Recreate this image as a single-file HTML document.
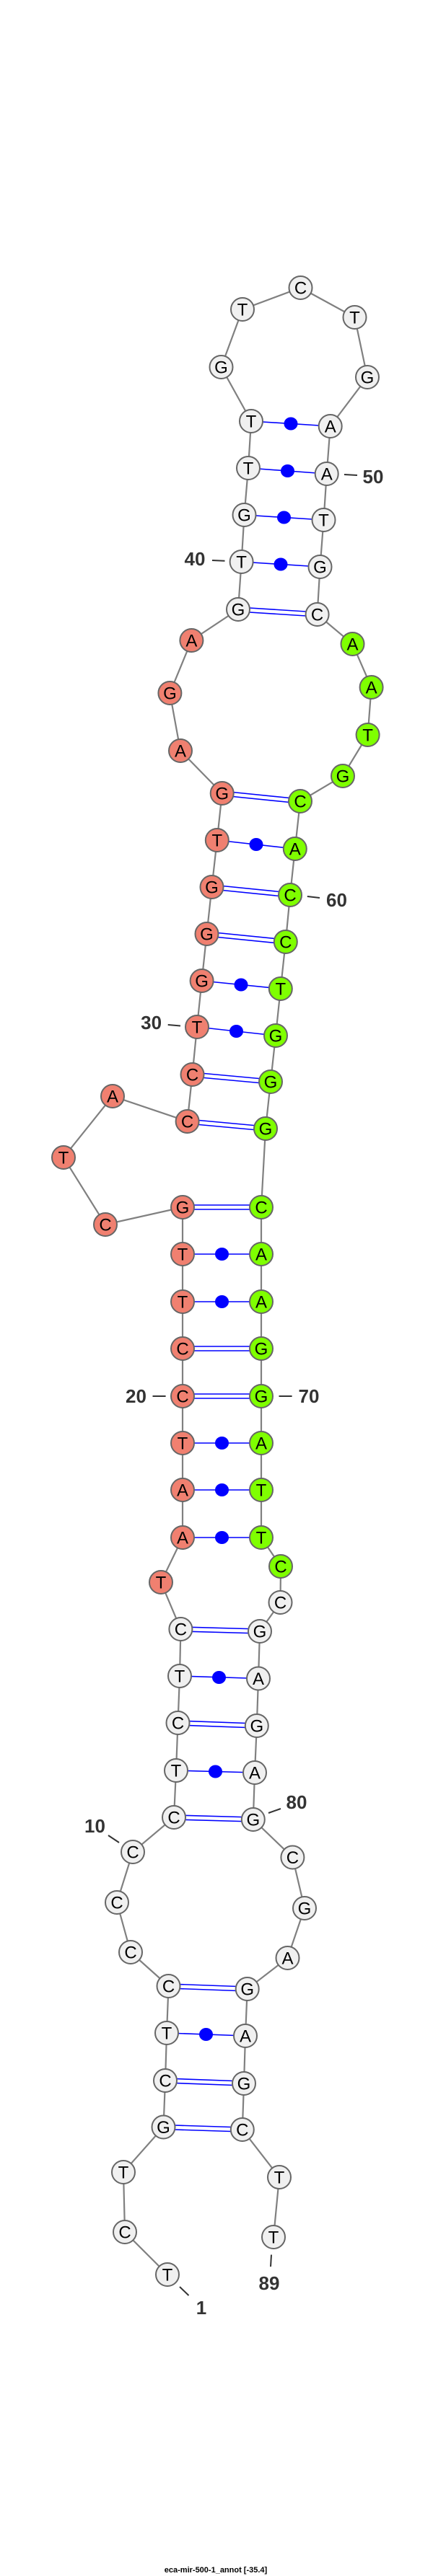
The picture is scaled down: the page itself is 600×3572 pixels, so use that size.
<!DOCTYPE html>
<html><head><meta charset="utf-8"><style>
html,body{margin:0;padding:0;background:#fff;}
svg{display:block}
.b{fill:none;stroke:#808080;stroke-width:2.2}
.p{stroke:#0000ff;stroke-width:1.6}
.d{fill:#0000ff}
circle{stroke:#666;stroke-width:2}
.w{fill:#f0f0f0}.r{fill:#f08070}.g{fill:#7fff00}
text.n{font-family:"Liberation Sans",sans-serif;font-size:24px;text-anchor:middle;fill:#000}
text.l{font-family:"Liberation Sans",sans-serif;font-size:26px;font-weight:bold;text-anchor:middle;fill:#333}
.t{stroke:#333;stroke-width:2}
</style></head><body>
<svg width="600" height="3572" viewBox="0 0 600 3572" xmlns="http://www.w3.org/2000/svg">
<polyline class="b" points="232,3154 173,3095 171,3012 226.5,2949.5 229,2885 231,2819 233.5,2754 181,2707 162,2638 184,2568 241,2520 244,2455 246.5,2389 249,2324 250.4,2259 223,2194 253,2132 253,2066 253,2001 253,1936 253,1870 253,1805 253,1739 253,1674 146,1698 88,1605 156,1520 259.6,1555 266.5,1490 273,1424 279.6,1360 286.5,1295 293.5,1230 300.8,1165 307.7,1100 250,1041 235.4,961 265.4,888 330,845 334.6,779 338.5,714 344,649 348,584 306.5,509 336,429 416.5,399 491.5,440 509,523 457.7,591 452.7,657 448.5,721 443.5,786 439.6,852 488.5,893 514.6,953 509.6,1019 475,1076 416,1111 408.8,1177 402,1241 395.8,1306 388.8,1371 382,1436 375,1500 368,1565 362,1674 362,1739 362,1805 362,1870 362,1936 362,2001 362,2066 362,2132 389,2172 388.5,2222 360,2262 358,2327.5 355.8,2393 353,2458 350.8,2523 405.4,2575.5 422,2646 398.5,2715 342.7,2758 340,2823 338,2889 335.8,2953 387,3019 379,3102"/>
<g class="p">
<!-- double pairs -->
<line x1="226.5" y1="2946.5" x2="335.8" y2="2950"/><line x1="226.5" y1="2952.5" x2="335.8" y2="2956"/>
<line x1="229" y1="2882" x2="338" y2="2886"/><line x1="229" y1="2888" x2="338" y2="2892"/>
<line x1="233.5" y1="2751" x2="342.7" y2="2755"/><line x1="233.5" y1="2757" x2="342.7" y2="2761"/>
<line x1="241" y1="2517" x2="350.8" y2="2520"/><line x1="241" y1="2523" x2="350.8" y2="2526"/>
<line x1="246.5" y1="2386" x2="355.8" y2="2390"/><line x1="246.5" y1="2392" x2="355.8" y2="2396"/>
<line x1="250.4" y1="2256" x2="360" y2="2259"/><line x1="250.4" y1="2262" x2="360" y2="2265"/>
<line x1="253" y1="1933" x2="362" y2="1933"/><line x1="253" y1="1939" x2="362" y2="1939"/>
<line x1="253" y1="1867" x2="362" y2="1867"/><line x1="253" y1="1873" x2="362" y2="1873"/>
<line x1="253" y1="1671" x2="362" y2="1671"/><line x1="253" y1="1677" x2="362" y2="1677"/>
<line x1="259.6" y1="1552" x2="368" y2="1562"/><line x1="259.6" y1="1558" x2="368" y2="1568"/>
<line x1="266.5" y1="1487" x2="375" y2="1497"/><line x1="266.5" y1="1493" x2="375" y2="1503"/>
<line x1="286.5" y1="1292" x2="395.8" y2="1303"/><line x1="286.5" y1="1298" x2="395.8" y2="1309"/>
<line x1="293.5" y1="1227" x2="402" y2="1238"/><line x1="293.5" y1="1233" x2="402" y2="1244"/>
<line x1="307.7" y1="1097" x2="416" y2="1108"/><line x1="307.7" y1="1103" x2="416" y2="1114"/>
<line x1="330" y1="842" x2="439.6" y2="849"/><line x1="330" y1="848" x2="439.6" y2="855"/>
<!-- single pairs -->
<line x1="231" y1="2819" x2="340" y2="2823"/>
<line x1="244" y1="2455" x2="353" y2="2458"/>
<line x1="249" y1="2324" x2="358" y2="2327.5"/>
<line x1="253" y1="2132" x2="362" y2="2132"/>
<line x1="253" y1="2066" x2="362" y2="2066"/>
<line x1="253" y1="2001" x2="362" y2="2001"/>
<line x1="253" y1="1805" x2="362" y2="1805"/>
<line x1="253" y1="1739" x2="362" y2="1739"/>
<line x1="273" y1="1424" x2="382" y2="1436"/>
<line x1="279.6" y1="1360" x2="388.8" y2="1371"/>
<line x1="300.8" y1="1165" x2="408.8" y2="1177"/>
<line x1="334.6" y1="779" x2="443.5" y2="786"/>
<line x1="338.5" y1="714" x2="448.5" y2="721"/>
<line x1="344" y1="649" x2="452.7" y2="657"/>
<line x1="348" y1="584" x2="457.7" y2="591"/>
</g>
<g class="d">
<ellipse cx="285.5" cy="2821" rx="9.5" ry="9"/>
<ellipse cx="298.5" cy="2456.5" rx="9.5" ry="9"/>
<ellipse cx="303.5" cy="2326" rx="9.5" ry="9"/>
<ellipse cx="307.5" cy="2132" rx="9.5" ry="9"/>
<ellipse cx="307.5" cy="2066" rx="9.5" ry="9"/>
<ellipse cx="307.5" cy="2001" rx="9.5" ry="9"/>
<ellipse cx="307.5" cy="1805" rx="9.5" ry="9"/>
<ellipse cx="307.5" cy="1739" rx="9.5" ry="9"/>
<ellipse cx="327.5" cy="1430" rx="9.5" ry="9"/>
<ellipse cx="334" cy="1365.5" rx="9.5" ry="9"/>
<ellipse cx="355" cy="1171" rx="9.5" ry="9"/>
<ellipse cx="389" cy="782.5" rx="9.5" ry="9"/>
<ellipse cx="393.5" cy="717.5" rx="9.5" ry="9"/>
<ellipse cx="398.5" cy="653" rx="9.5" ry="9"/>
<ellipse cx="403" cy="587.5" rx="9.5" ry="9"/>
</g>
<g>
<circle class="w" cx="232" cy="3154" r="16"/><circle class="w" cx="173" cy="3095" r="16"/><circle class="w" cx="171" cy="3012" r="16"/><circle class="w" cx="226.5" cy="2949.5" r="16"/><circle class="w" cx="229" cy="2885" r="16"/><circle class="w" cx="231" cy="2819" r="16"/><circle class="w" cx="233.5" cy="2754" r="16"/><circle class="w" cx="181" cy="2707" r="16"/><circle class="w" cx="162" cy="2638" r="16"/><circle class="w" cx="184" cy="2568" r="16"/><circle class="w" cx="241" cy="2520" r="16"/><circle class="w" cx="244" cy="2455" r="16"/><circle class="w" cx="246.5" cy="2389" r="16"/><circle class="w" cx="249" cy="2324" r="16"/><circle class="w" cx="250.4" cy="2259" r="16"/>
<circle class="r" cx="223" cy="2194" r="16"/><circle class="r" cx="253" cy="2132" r="16"/><circle class="r" cx="253" cy="2066" r="16"/><circle class="r" cx="253" cy="2001" r="16"/><circle class="r" cx="253" cy="1936" r="16"/><circle class="r" cx="253" cy="1870" r="16"/><circle class="r" cx="253" cy="1805" r="16"/><circle class="r" cx="253" cy="1739" r="16"/><circle class="r" cx="253" cy="1674" r="16"/><circle class="r" cx="146" cy="1698" r="16"/><circle class="r" cx="88" cy="1605" r="16"/><circle class="r" cx="156" cy="1520" r="16"/><circle class="r" cx="259.6" cy="1555" r="16"/><circle class="r" cx="266.5" cy="1490" r="16"/><circle class="r" cx="273" cy="1424" r="16"/><circle class="r" cx="279.6" cy="1360" r="16"/><circle class="r" cx="286.5" cy="1295" r="16"/><circle class="r" cx="293.5" cy="1230" r="16"/><circle class="r" cx="300.8" cy="1165" r="16"/><circle class="r" cx="307.7" cy="1100" r="16"/><circle class="r" cx="250" cy="1041" r="16"/><circle class="r" cx="235.4" cy="961" r="16"/><circle class="r" cx="265.4" cy="888" r="16"/>
<circle class="w" cx="330" cy="845" r="16"/><circle class="w" cx="334.6" cy="779" r="16"/><circle class="w" cx="338.5" cy="714" r="16"/><circle class="w" cx="344" cy="649" r="16"/><circle class="w" cx="348" cy="584" r="16"/><circle class="w" cx="306.5" cy="509" r="16"/><circle class="w" cx="336" cy="429" r="16"/><circle class="w" cx="416.5" cy="399" r="16"/><circle class="w" cx="491.5" cy="440" r="16"/><circle class="w" cx="509" cy="523" r="16"/><circle class="w" cx="457.7" cy="591" r="16"/><circle class="w" cx="452.7" cy="657" r="16"/><circle class="w" cx="448.5" cy="721" r="16"/><circle class="w" cx="443.5" cy="786" r="16"/><circle class="w" cx="439.6" cy="852" r="16"/>
<circle class="g" cx="488.5" cy="893" r="16"/><circle class="g" cx="514.6" cy="953" r="16"/><circle class="g" cx="509.6" cy="1019" r="16"/><circle class="g" cx="475" cy="1076" r="16"/><circle class="g" cx="416" cy="1111" r="16"/><circle class="g" cx="408.8" cy="1177" r="16"/><circle class="g" cx="402" cy="1241" r="16"/><circle class="g" cx="395.8" cy="1306" r="16"/><circle class="g" cx="388.8" cy="1371" r="16"/><circle class="g" cx="382" cy="1436" r="16"/><circle class="g" cx="375" cy="1500" r="16"/><circle class="g" cx="368" cy="1565" r="16"/><circle class="g" cx="362" cy="1674" r="16"/><circle class="g" cx="362" cy="1739" r="16"/><circle class="g" cx="362" cy="1805" r="16"/><circle class="g" cx="362" cy="1870" r="16"/><circle class="g" cx="362" cy="1936" r="16"/><circle class="g" cx="362" cy="2001" r="16"/><circle class="g" cx="362" cy="2066" r="16"/><circle class="g" cx="362" cy="2132" r="16"/><circle class="g" cx="389" cy="2172" r="16"/>
<circle class="w" cx="388.5" cy="2222" r="16"/><circle class="w" cx="360" cy="2262" r="16"/><circle class="w" cx="358" cy="2327.5" r="16"/><circle class="w" cx="355.8" cy="2393" r="16"/><circle class="w" cx="353" cy="2458" r="16"/><circle class="w" cx="350.8" cy="2523" r="16"/><circle class="w" cx="405.4" cy="2575.5" r="16"/><circle class="w" cx="422" cy="2646" r="16"/><circle class="w" cx="398.5" cy="2715" r="16"/><circle class="w" cx="342.7" cy="2758" r="16"/><circle class="w" cx="340" cy="2823" r="16"/><circle class="w" cx="338" cy="2889" r="16"/><circle class="w" cx="335.8" cy="2953" r="16"/><circle class="w" cx="387" cy="3019" r="16"/><circle class="w" cx="379" cy="3102" r="16"/>
</g>
<g class="n" style="font-family:'Liberation Sans',sans-serif;font-size:24px;text-anchor:middle" dominant-baseline="central">
<text x="232" y="3155">T</text><text x="173" y="3096">C</text><text x="171" y="3013">T</text><text x="226.5" y="2950.5">G</text><text x="229" y="2886">C</text><text x="231" y="2820">T</text><text x="233.5" y="2755">C</text><text x="181" y="2708">C</text><text x="162" y="2639">C</text><text x="184" y="2569">C</text><text x="241" y="2521">C</text><text x="244" y="2456">T</text><text x="246.5" y="2390">C</text><text x="249" y="2325">T</text><text x="250.4" y="2260">C</text>
<text x="223" y="2195">T</text><text x="253" y="2133">A</text><text x="253" y="2067">A</text><text x="253" y="2002">T</text><text x="253" y="1937">C</text><text x="253" y="1871">C</text><text x="253" y="1806">T</text><text x="253" y="1740">T</text><text x="253" y="1675">G</text><text x="146" y="1699">C</text><text x="88" y="1606">T</text><text x="156" y="1521">A</text><text x="259.6" y="1556">C</text><text x="266.5" y="1491">C</text><text x="273" y="1425">T</text><text x="279.6" y="1361">G</text><text x="286.5" y="1296">G</text><text x="293.5" y="1231">G</text><text x="300.8" y="1166">T</text><text x="307.7" y="1101">G</text><text x="250" y="1042">A</text><text x="235.4" y="962">G</text><text x="265.4" y="889">A</text>
<text x="330" y="846">G</text><text x="334.6" y="780">T</text><text x="338.5" y="715">G</text><text x="344" y="650">T</text><text x="348" y="585">T</text><text x="306.5" y="510">G</text><text x="336" y="430">T</text><text x="416.5" y="400">C</text><text x="491.5" y="441">T</text><text x="509" y="524">G</text><text x="457.7" y="592">A</text><text x="452.7" y="658">A</text><text x="448.5" y="722">T</text><text x="443.5" y="787">G</text><text x="439.6" y="853">C</text>
<text x="488.5" y="894">A</text><text x="514.6" y="954">A</text><text x="509.6" y="1020">T</text><text x="475" y="1077">G</text><text x="416" y="1112">C</text><text x="408.8" y="1178">A</text><text x="402" y="1242">C</text><text x="395.8" y="1307">C</text><text x="388.8" y="1372">T</text><text x="382" y="1437">G</text><text x="375" y="1501">G</text><text x="368" y="1566">G</text><text x="362" y="1675">C</text><text x="362" y="1740">A</text><text x="362" y="1806">A</text><text x="362" y="1871">G</text><text x="362" y="1937">G</text><text x="362" y="2002">A</text><text x="362" y="2067">T</text><text x="362" y="2133">T</text><text x="389" y="2173">C</text>
<text x="388.5" y="2223">C</text><text x="360" y="2263">G</text><text x="358" y="2328.5">A</text><text x="355.8" y="2394">G</text><text x="353" y="2459">A</text><text x="350.8" y="2524">G</text><text x="405.4" y="2576.5">C</text><text x="422" y="2647">G</text><text x="398.5" y="2716">A</text><text x="342.7" y="2759">G</text><text x="340" y="2824">A</text><text x="338" y="2890">G</text><text x="335.8" y="2954">C</text><text x="387" y="3020">T</text><text x="379" y="3103">T</text>
</g>
<g class="t">
<line x1="249" y1="3171" x2="261.5" y2="3183"/>
<line x1="376" y1="3126.5" x2="375" y2="3143"/>
<line x1="150" y1="2545" x2="165" y2="2555"/>
<line x1="372" y1="2514" x2="389" y2="2508"/>
<line x1="211.5" y1="1936" x2="229.6" y2="1936"/>
<line x1="386.5" y1="1936" x2="404.6" y2="1936"/>
<line x1="232.7" y1="1421" x2="250" y2="1422.5"/>
<line x1="425.8" y1="1243" x2="443" y2="1245"/>
<line x1="294" y1="777" x2="311.5" y2="777.7"/>
<line x1="477" y1="658" x2="495" y2="659"/>
</g>
<g style="font-family:'Liberation Sans',sans-serif;font-size:26px;font-weight:bold;text-anchor:middle;fill:#333">
<text x="279" y="3209">1</text>
<text x="373" y="3175">89</text>
<text x="131.5" y="2541">10</text>
<text x="411" y="2508">80</text>
<text x="188.5" y="1945">20</text>
<text x="428" y="1945">70</text>
<text x="209.6" y="1427">30</text>
<text x="466.5" y="1257">60</text>
<text x="270" y="784">40</text>
<text x="517" y="670">50</text>
</g>
<text x="299" y="3567" style="font-family:'Liberation Sans',sans-serif;font-size:11px;font-weight:bold;text-anchor:middle;fill:#000">eca-mir-500-1_annot [-35.4]</text>
</svg>
</body></html>
